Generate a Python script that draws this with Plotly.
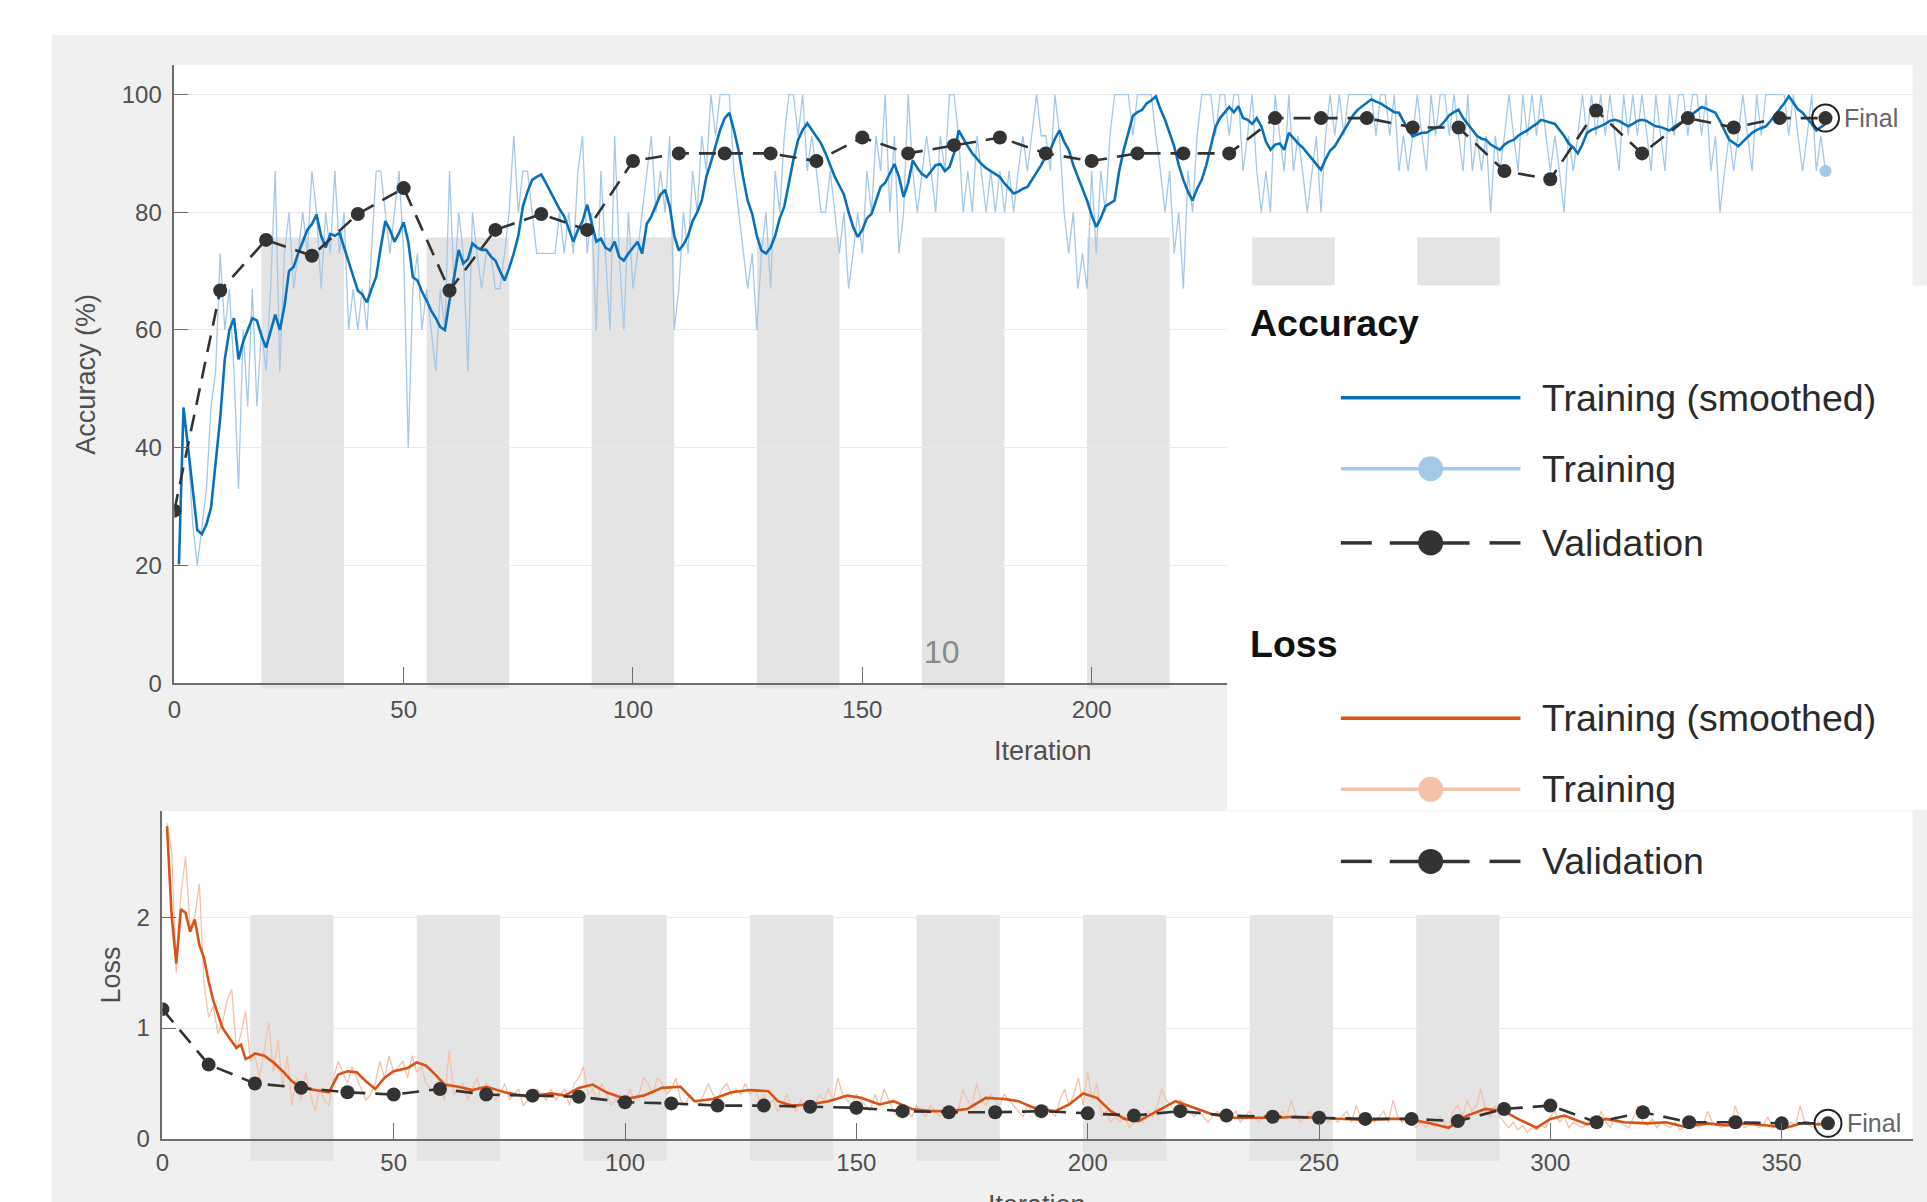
import plotly.graph_objects as go

# ---------------- data ----------------
train_acc = [
    20, 47, 40, 27, 20, 27, 33, 47, 53, 73,
    60, 67, 53, 33, 60, 47, 67, 47, 60, 53,
    67, 87, 53, 73, 80, 67, 73, 80, 73, 87,
    80, 67, 80, 73, 87, 73, 80, 60, 67, 60,
    67, 60, 73, 87, 87, 80, 73, 80, 87, 73,
    40, 67, 73, 60, 67, 60, 53, 67, 60, 87,
    67, 80, 73, 53, 80, 73, 67, 73, 73, 67,
    67, 73, 80, 93, 80, 87, 87, 80, 73, 73,
    73, 73, 73, 80, 73, 80, 73, 87, 93, 73,
    80, 60, 87, 73, 60, 93, 73, 60, 80, 67,
    73, 80, 87, 93, 80, 87, 80, 93, 60, 67,
    80, 73, 87, 80, 93, 87, 100, 93, 100, 100,
    100, 87, 80, 73, 67, 73, 60, 73, 80, 67,
    87, 80, 93, 100, 100, 93, 100, 87, 93, 87,
    80, 80, 87, 80, 73, 80, 67, 73, 80, 73,
    87, 80, 93, 87, 100, 80, 93, 73, 80, 100,
    87, 80, 87, 93, 87, 80, 93, 87, 100, 100,
    93, 80, 87, 80, 93, 87, 80, 87, 80, 87,
    80, 87, 80, 87, 93, 87, 93, 100, 93, 93,
    87, 100, 93, 80, 73, 80, 67, 73, 67, 87,
    73, 87, 80, 93, 100, 100, 100, 100, 93, 100,
    100, 100, 100, 93, 87, 80, 87, 73, 80, 67,
    87, 80, 93, 100, 100, 100, 93, 100, 100, 93,
    100, 100, 87, 93, 100, 87, 80, 87, 80, 100,
    93, 87, 100, 87, 93, 87, 80, 87, 93, 80,
    93, 100, 93, 100, 93, 100, 100, 100, 100, 100,
    100, 93, 100, 100, 93, 100, 87, 93, 87, 93,
    100, 93, 87, 100, 93, 100, 100, 93, 100, 93,
    87, 100, 87, 93, 87, 93, 80, 93, 87, 93,
    100, 93, 87, 100, 93, 100, 93, 100, 93, 87,
    93, 87, 80, 93, 87, 93, 100, 93, 100, 93,
    100, 93, 100, 93, 87, 100, 93, 100, 93, 100,
    93, 87, 100, 93, 87, 100, 93, 100, 100, 93,
    100, 100, 93, 100, 87, 93, 80, 87, 93, 87,
    93, 100, 93, 87, 100, 93, 100, 100, 100, 100,
    100, 93, 100, 93, 87, 93, 100, 87, 93, 87,
]

smooth_acc = [
    20.2, 46.8, 40, 33, 26, 25.3, 27, 29.8, 37, 45,
    55, 60, 62, 55, 58, 60, 62, 61.6, 59, 57,
    60, 62.6, 60, 64, 70, 70.7, 73, 75, 77, 78,
    79.6, 76, 74, 76.3, 76, 76.5, 74, 71.8, 69, 66.7,
    66, 64.7, 67, 69, 74, 78.5, 77, 75, 76.5, 78.3,
    75, 69, 68.4, 66.5, 65, 63.3, 62, 60.5, 60, 65,
    69, 73.6, 71.3, 72, 74.7, 74, 73.6, 73.6, 72.5, 71.8,
    70, 68.4, 70.5, 73, 76, 81, 83.5, 85.5, 86, 86.4,
    85, 83.5, 82, 80.5, 79.3, 77, 75, 77, 78.5, 81.3,
    78, 75, 75.5, 74, 73.5, 75, 72.4, 71.8, 73, 74,
    75, 73, 78, 79.3, 81, 83, 83.8, 81, 76, 73.5,
    74.5, 76, 78.5, 80, 82, 86, 88.5, 91.2, 94, 96,
    96.9, 94, 90.6, 86, 82, 79.7, 76, 73.5, 73, 74,
    76, 79, 81, 85, 89, 92.3, 94, 95.1, 94, 93,
    91.7, 90, 88, 86, 84.5, 83, 80, 77.5, 75.8, 77,
    79, 79.7, 82, 84.3, 85, 86.5, 88.2, 86, 82.6, 85,
    88.8, 87.5, 86.5, 86, 87, 88, 88.2, 87, 87.7, 90,
    93.9, 92.5, 91.2, 90, 89, 88.2, 87.5, 87, 86.6, 86,
    84.9, 84, 83.2, 83.5, 84, 84.3, 85.5, 86.6, 88, 89.5,
    90.6, 92.5, 93.9, 92, 90.6, 88, 86, 84, 82, 79.5,
    77.5, 79, 81, 81.5, 82, 87, 90.6, 93.5, 96.4, 97,
    97.4, 98.5, 99, 99.7, 97.5, 95.7, 93.5, 91.2, 88, 85.5,
    83.5, 82, 84, 85.5, 88, 91.2, 94.5, 96, 96.9, 97.9,
    97, 98, 96, 95.7, 95, 96, 94.6, 92, 90.6, 91.5,
    91.7, 90.6, 93.5, 92.5, 91.7, 91, 90, 89, 88, 87.2,
    89, 90.5, 91.2, 92.5, 93.9, 95, 96.5, 97.4, 98, 98.5,
    99.2, 98.8, 98.5, 98, 97.5, 97, 96.9, 95.5, 94, 92.9,
    93.2, 93.5, 93.5, 94, 94.3, 94.6, 95.5, 96.5, 97, 97.4,
    96, 95, 93.9, 93, 92.5, 92.3, 91.5, 91, 90.6, 91.5,
    92, 92.3, 93, 93.5, 93.9, 94.5, 95, 95.7, 95.5, 95.2,
    95, 94, 93, 91.7, 91, 90, 91.5, 93.5, 94, 94.3,
    94.6, 95, 95.5, 95.7, 95.5, 95, 94.6, 95, 95.5, 95.7,
    95.5, 95, 94.6, 94.5, 94.2, 93.9, 94.5, 95, 95.5, 96,
    96.7, 97.3, 97.9, 97.6, 97.2, 96.9, 95.5, 94, 92.3, 91.8,
    91.2, 92, 92.8, 93.5, 94, 94.3, 94.6, 95.5, 96.5, 97.4,
    98.5, 99.7, 98.5, 97.5, 96.9, 96, 95, 93.9, 94.5, 95,
]

val_iter = [0, 10, 20, 30, 40, 50, 60, 70, 80, 90, 100, 110, 120, 130, 140, 150, 160, 170, 180,
            190, 200, 210, 220, 230, 240, 250, 260, 270, 280, 290, 300, 310, 320, 330, 340, 350, 360]
val_acc = [29.3, 66.7, 75.3, 72.6, 79.7, 84.1, 66.7, 77, 79.7, 77, 88.7, 90, 90, 90, 88.7, 92.7,
           90, 91.4, 92.7, 90, 88.7, 90, 90, 90, 96, 96, 96, 94.4, 94.4, 87, 85.6, 97.3, 90,
           96, 94.4, 96, 96]

train_loss = [
    2.85, 2.60, 1.50, 2.20, 2.55, 1.90, 2.00, 2.30, 1.40, 1.10,
    1.20, 0.95, 1.05, 1.25, 1.35, 0.80, 0.95, 1.15, 0.70, 0.75,
    0.55, 0.80, 1.05, 0.60, 0.90, 0.45, 0.75, 0.30, 0.55, 0.35,
    0.60, 0.40, 0.25, 0.45, 0.35, 0.30, 0.55, 0.70, 0.60, 0.50,
    0.65, 0.55, 0.45, 0.35, 0.40, 0.50, 0.70, 0.55, 0.75, 0.60,
    0.65, 0.70, 0.55, 0.75, 0.60, 0.65, 0.50, 0.45, 0.40, 0.55,
    0.35, 0.80, 0.40, 0.45, 0.50, 0.35, 0.45, 0.55, 0.40, 0.50,
    0.45, 0.35, 0.40, 0.50, 0.35, 0.40, 0.45, 0.30, 0.35, 0.40,
    0.45, 0.40, 0.35, 0.45, 0.35, 0.40, 0.45, 0.30, 0.50, 0.55,
    0.65, 0.40, 0.45, 0.35, 0.50, 0.40, 0.30, 0.35, 0.40, 0.30,
    0.45, 0.35, 0.40, 0.55, 0.50, 0.40, 0.55, 0.50, 0.40, 0.45,
    0.55, 0.35, 0.30, 0.40, 0.35, 0.30, 0.40, 0.50, 0.40, 0.35,
    0.45, 0.50, 0.40, 0.45, 0.40, 0.50, 0.40, 0.45, 0.35, 0.40,
    0.30, 0.35, 0.25, 0.30, 0.40, 0.30, 0.25, 0.35, 0.30, 0.35,
    0.30, 0.40, 0.35, 0.45, 0.35, 0.55, 0.40, 0.35, 0.30, 0.40,
    0.35, 0.30, 0.25, 0.40, 0.30, 0.45, 0.35, 0.25, 0.20, 0.30,
    0.25, 0.20, 0.30, 0.25, 0.20, 0.30, 0.25, 0.20, 0.25, 0.30,
    0.20, 0.25, 0.45, 0.35, 0.30, 0.50, 0.35, 0.30, 0.40, 0.35,
    0.30, 0.40, 0.35, 0.30, 0.25, 0.20, 0.30, 0.25, 0.20, 0.25,
    0.30, 0.25, 0.20, 0.35, 0.45, 0.30, 0.40, 0.55, 0.30, 0.60,
    0.35, 0.50, 0.20, 0.25, 0.15, 0.20, 0.15, 0.20, 0.10, 0.15,
    0.20, 0.15, 0.25, 0.20, 0.30, 0.45, 0.35, 0.30, 0.25, 0.35,
    0.30, 0.25, 0.20, 0.25, 0.20, 0.15, 0.20, 0.25, 0.20, 0.15,
    0.20, 0.25, 0.15, 0.20, 0.25, 0.20, 0.15, 0.20, 0.25, 0.20,
    0.15, 0.25, 0.20, 0.35, 0.20, 0.15, 0.20, 0.25, 0.15, 0.20,
    0.25, 0.15, 0.20, 0.15, 0.20, 0.25, 0.15, 0.30, 0.20, 0.15,
    0.20, 0.15, 0.20, 0.25, 0.15, 0.35, 0.20, 0.15, 0.20, 0.15,
    0.10, 0.15, 0.10, 0.15, 0.10, 0.20, 0.15, 0.10, 0.25, 0.30,
    0.20, 0.35, 0.25, 0.30, 0.45, 0.25, 0.20, 0.30, 0.20, 0.15,
    0.10, 0.15, 0.08, 0.12, 0.06, 0.10, 0.08, 0.12, 0.10, 0.20,
    0.25, 0.15, 0.20, 0.10, 0.15, 0.12, 0.10, 0.15, 0.20, 0.15,
    0.25, 0.15, 0.10, 0.20, 0.15, 0.12, 0.10, 0.20, 0.30, 0.15,
    0.12, 0.18, 0.10, 0.15, 0.12, 0.10, 0.15, 0.08, 0.12, 0.10,
    0.15, 0.10, 0.12, 0.25, 0.15, 0.12, 0.10, 0.15, 0.12, 0.30,
    0.15, 0.10, 0.12, 0.15, 0.10, 0.12, 0.20, 0.10, 0.12, 0.08,
    0.10, 0.15, 0.12, 0.30, 0.15, 0.12, 0.10, 0.15, 0.12, 0.14,
]

smooth_loss_iter = [1, 2, 3, 4, 5, 6, 7, 8, 9, 10, 11, 12, 13, 14, 15, 16, 17, 18, 19, 20, 22, 24,
                    26, 28, 30, 33, 36, 38, 40, 42, 44, 46, 48, 50, 53, 55, 57, 59, 61, 64, 67,
                    70, 74, 79, 84, 87, 90, 93, 96, 100, 104, 108, 112, 115, 119, 123, 127, 131,
                    133, 136, 140, 144, 148, 151, 155, 158, 162, 166, 170, 174, 178, 182, 185,
                    189, 193, 196, 199, 202, 205, 208, 211, 215, 219, 223, 227, 231, 236, 241,
                    245, 250, 255, 260, 265, 269, 274, 278, 282, 286, 290, 293, 297, 300, 303,
                    308, 312, 316, 321, 325, 329, 334, 338, 342, 347, 351, 355, 358, 360]
smooth_loss = [2.82, 2.02, 1.58, 2.07, 2.04, 1.87, 1.98, 1.75, 1.63, 1.42, 1.25, 1.12, 1.00, 0.94,
               0.88, 0.82, 0.85, 0.72, 0.74, 0.77, 0.75, 0.69, 0.61, 0.52, 0.46, 0.44, 0.42, 0.58,
               0.61, 0.60, 0.52, 0.45, 0.55, 0.61, 0.64, 0.69, 0.66, 0.58, 0.49, 0.47, 0.44, 0.47,
               0.42, 0.38, 0.41, 0.39, 0.46, 0.49, 0.42, 0.36, 0.39, 0.46, 0.47, 0.34, 0.36, 0.42,
               0.44, 0.43, 0.34, 0.30, 0.31, 0.34, 0.39, 0.37, 0.31, 0.34, 0.27, 0.25, 0.25, 0.27,
               0.37, 0.36, 0.34, 0.27, 0.25, 0.31, 0.41, 0.37, 0.25, 0.18, 0.16, 0.25, 0.34, 0.28,
               0.22, 0.19, 0.19, 0.19, 0.20, 0.19, 0.18, 0.17, 0.18, 0.18, 0.14, 0.10, 0.21, 0.27,
               0.25, 0.18, 0.10, 0.18, 0.21, 0.13, 0.18, 0.15, 0.14, 0.15, 0.11, 0.14, 0.12, 0.14,
               0.12, 0.10, 0.15, 0.13, 0.14]

val_loss = [1.17, 0.67, 0.50, 0.46, 0.42, 0.40, 0.45, 0.40, 0.39, 0.38, 0.33, 0.32, 0.30, 0.30,
            0.29, 0.28, 0.25, 0.24, 0.24, 0.25, 0.23, 0.21, 0.25, 0.21, 0.20, 0.19, 0.18, 0.18,
            0.16, 0.27, 0.30, 0.15, 0.24, 0.15, 0.15, 0.14, 0.14]

epoch_band_start = [19, 55, 91, 127, 163, 199, 235, 271]
epoch_band_len = 18
top_x_ticks = [0, 50, 100, 150, 200]
bottom_x_ticks = [0, 50, 100, 150, 200, 250, 300, 350]
acc_ticks = [0, 20, 40, 60, 80, 100]
loss_ticks = [0, 1, 2]

iterations = list(range(1, len(train_acc) + 1))
loss_iterations = list(range(1, len(train_loss) + 1))

# ---------------- styles ----------------
BLUE = "#0a70bb"
LIGHT_BLUE = "#a4c8e7"
ORANGE = "#d95319"
LIGHT_ORANGE = "#f3c2a8"
DARK = "#333333"
BAND = "#e4e4e4"
PANEL = "#f0f0f0"
AXIS = "#6e6e6e"
TXT = "#4f4f4f"
FONT = "Liberation Sans, Arial, sans-serif"

# figure size; the photographed page comes out slightly squeezed vertically and
# nudged right, so layout positions (given in target picture pixels) are mapped.
W, H = 1927, 1216
SX, OX, SY = 0.9985, 4.3, 0.9877


def px(x):
    return ((x - OX) / SX) / W


def py(y):
    return 1 - (y / SY) / H


TOP_X = [px(172), px(1914)]
TOP_Y = [py(682), py(65)]
BOT_X = [px(160), px(1914)]
BOT_Y = [py(1137), py(810)]
ACC_RANGE = [0, 105]
LOSS_RANGE = [0, 2.955]


def ypaper(dom, rng, v):
    return dom[0] + (v - rng[0]) / (rng[1] - rng[0]) * (dom[1] - dom[0])


fig = go.Figure()

# accuracy traces
fig.add_trace(go.Scatter(x=iterations, y=train_acc, mode="lines",
                         line=dict(color=LIGHT_BLUE, width=1.3), xaxis="x", yaxis="y"))
fig.add_trace(go.Scatter(x=iterations, y=smooth_acc, mode="lines",
                         line=dict(color=BLUE, width=2.6), xaxis="x", yaxis="y"))
fig.add_trace(go.Scatter(x=val_iter, y=val_acc, mode="lines+markers",
                         line=dict(color=DARK, width=2.6, dash="17px,10px"),
                         marker=dict(color=DARK, size=14), xaxis="x", yaxis="y"))
fig.add_trace(go.Scatter(x=[iterations[-1]], y=[train_acc[-1]], mode="markers",
                         marker=dict(color=LIGHT_BLUE, size=12), xaxis="x", yaxis="y"))
fig.add_trace(go.Scatter(x=[val_iter[-1]], y=[val_acc[-1]], mode="markers",
                         marker=dict(symbol="circle-open", color="#222222", size=27,
                                     line=dict(width=2)), xaxis="x", yaxis="y"))

# loss traces
fig.add_trace(go.Scatter(x=loss_iterations, y=train_loss, mode="lines",
                         line=dict(color=LIGHT_ORANGE, width=1.3), xaxis="x2", yaxis="y2"))
fig.add_trace(go.Scatter(x=smooth_loss_iter, y=smooth_loss, mode="lines",
                         line=dict(color=ORANGE, width=2.6), xaxis="x2", yaxis="y2"))
fig.add_trace(go.Scatter(x=val_iter, y=val_loss, mode="lines+markers",
                         line=dict(color=DARK, width=2.6, dash="17px,10px"),
                         marker=dict(color=DARK, size=14), xaxis="x2", yaxis="y2"))
fig.add_trace(go.Scatter(x=[val_iter[-1]], y=[val_loss[-1]], mode="markers",
                         marker=dict(symbol="circle-open", color="#222222", size=27,
                                     line=dict(width=2)), xaxis="x2", yaxis="y2"))

shapes = []
# white page margins (paper bg is panel gray)
shapes.append(dict(type="rect", xref="paper", yref="paper", x0=-0.01, x1=1.01, y0=py(35),
                   y1=1.01, fillcolor="white", line=dict(width=0), layer="below"))
shapes.append(dict(type="rect", xref="paper", yref="paper", x0=-0.01, x1=px(49), y0=-0.01,
                   y1=1.01, fillcolor="white", line=dict(width=0), layer="below"))

# epoch bands
for s in epoch_band_start:
    shapes.append(dict(type="rect", xref="x", yref="paper", x0=s, x1=s + epoch_band_len,
                       y0=ypaper(TOP_Y, ACC_RANGE, -0.9), y1=ypaper(TOP_Y, ACC_RANGE, 75.7),
                       fillcolor=BAND, line=dict(width=0), layer="below"))
    shapes.append(dict(type="rect", xref="x2", yref="paper", x0=s, x1=s + epoch_band_len,
                       y0=ypaper(BOT_Y, LOSS_RANGE, -0.2), y1=ypaper(BOT_Y, LOSS_RANGE, 2.02),
                       fillcolor=BAND, line=dict(width=0), layer="below"))

# legend panel
shapes.append(dict(type="rect", xref="paper", yref="paper", x0=px(1227), x1=1.01, y0=py(809),
                   y1=py(285), fillcolor="white", line=dict(width=0), layer="above"))

annotations = []
legend_rows = [
    ("solid", BLUE, 397, "Training (smoothed)"),
    ("marker", LIGHT_BLUE, 468, "Training"),
    ("dashed", DARK, 542, "Validation"),
    ("solid", ORANGE, 717, "Training (smoothed)"),
    ("marker", LIGHT_ORANGE, 788, "Training"),
    ("dashed", DARK, 860, "Validation"),
]
LX0, LX1, LCX, LR = 1341, 1521, 1431, 12.5
for kind, col, yy, label in legend_rows:
    if kind == "dashed":
        for a, b in [(1341, 1372), (1390, 1470), (1490, 1521)]:
            shapes.append(dict(type="line", xref="paper", yref="paper", x0=px(a), x1=px(b),
                               y0=py(yy), y1=py(yy), line=dict(color=col, width=3.5),
                               layer="above"))
    else:
        shapes.append(dict(type="line", xref="paper", yref="paper", x0=px(LX0), x1=px(LX1),
                           y0=py(yy), y1=py(yy), line=dict(color=col, width=3.5),
                           layer="above"))
    if kind != "solid":
        shapes.append(dict(type="circle", xref="paper", yref="paper", x0=px(LCX - LR),
                           x1=px(LCX + LR), y0=py(yy + LR), y1=py(yy - LR),
                           fillcolor=col, line=dict(width=0), layer="above"))
    annotations.append(dict(x=px(1541), y=py(yy), xref="paper", yref="paper", text=label,
                            showarrow=False, xanchor="left", yanchor="middle",
                            font=dict(family=FONT, size=37.5, color="#2b2b2b")))

for title, yy in [("Accuracy", 322), ("Loss", 643)]:
    annotations.append(dict(x=px(1248), y=py(yy), xref="paper", yref="paper",
                            text="<b>" + title + "</b>", showarrow=False, xanchor="left",
                            yanchor="middle",
                            font=dict(family=FONT, size=37.5, color="#111111")))

# axis titles
annotations.append(dict(x=(TOP_X[0] + TOP_X[1]) / 2, y=py(750), xref="paper", yref="paper",
                        text="Iteration", showarrow=False, xanchor="center", yanchor="middle",
                        font=dict(family=FONT, size=27, color=TXT)))
# bottom axis title: only its upper part is inside the picture, as in the reference
annotations.append(dict(x=(BOT_X[0] + BOT_X[1]) / 2, y=0, xref="paper", yref="paper",
                        text="Iteration", showarrow=False, xanchor="center", yanchor="bottom",
                        height=12, valign="top", borderpad=0,
                        font=dict(family=FONT, size=27, color=TXT)))
annotations.append(dict(x=px(84), y=(TOP_Y[0] + TOP_Y[1]) / 2, xref="paper", yref="paper",
                        text="Accuracy (%)", showarrow=False, textangle=-90, xanchor="center",
                        yanchor="middle", font=dict(family=FONT, size=27, color=TXT)))
annotations.append(dict(x=px(109), y=(BOT_Y[0] + BOT_Y[1]) / 2, xref="paper", yref="paper",
                        text="Loss", showarrow=False, textangle=-90, xanchor="center",
                        yanchor="middle", font=dict(family=FONT, size=27, color=TXT)))

# Final labels
annotations.append(dict(x=val_iter[-1], y=val_acc[-1], xref="x", yref="y", text="Final",
                        showarrow=False, xanchor="left", yanchor="middle", xshift=17,
                        font=dict(family=FONT, size=25, color="#666666")))
annotations.append(dict(x=val_iter[-1], y=val_loss[-1], xref="x2", yref="y2", text="Final",
                        showarrow=False, xanchor="left", yanchor="middle", xshift=17,
                        font=dict(family=FONT, size=25, color="#666666")))
# stray "10" label
annotations.append(dict(x=px(941), y=py(651), xref="paper", yref="paper", text="10",
                        showarrow=False, xanchor="center", yanchor="middle",
                        font=dict(family=FONT, size=32, color="#8a8a8a")))

axis_common = dict(showline=True, linecolor=AXIS, linewidth=1.6, ticks="inside",
                   tickcolor=AXIS, tickwidth=1.4, zeroline=False,
                   tickfont=dict(family=FONT, size=24, color=TXT))

fig.update_layout(
    width=W, height=H, autosize=False,
    margin=dict(l=0, r=0, t=0, b=0),
    paper_bgcolor=PANEL, plot_bgcolor="white",
    showlegend=False,
    xaxis=dict(domain=TOP_X, range=[0, 379], anchor="y", tickvals=top_x_ticks, showgrid=False,
               ticklen=16, ticklabelstandoff=4, **axis_common),
    yaxis=dict(domain=TOP_Y, range=ACC_RANGE, anchor="x", tickvals=acc_ticks, showgrid=True,
               gridcolor="#e9e9e9", gridwidth=1.2, ticklen=14, ticklabelstandoff=6,
               **axis_common),
    xaxis2=dict(domain=BOT_X, range=[0, 378.3], anchor="y2", tickvals=bottom_x_ticks,
                showgrid=False, ticklen=16, ticklabelstandoff=2, **axis_common),
    yaxis2=dict(domain=BOT_Y, range=LOSS_RANGE, anchor="x2", tickvals=loss_ticks,
                showgrid=True, gridcolor="#e9e9e9", gridwidth=1.2, ticklen=14,
                ticklabelstandoff=6, **axis_common),
    shapes=shapes,
    annotations=annotations,
)

fig.write_html(
    "out.html",
    config={"displayModeBar": False},
    post_script=(
        "document.documentElement.style.margin='0';"
        "document.documentElement.style.overflow='hidden';"
        "document.body.style.margin='0';"
        "document.body.style.overflow='hidden';"
    ),
)
